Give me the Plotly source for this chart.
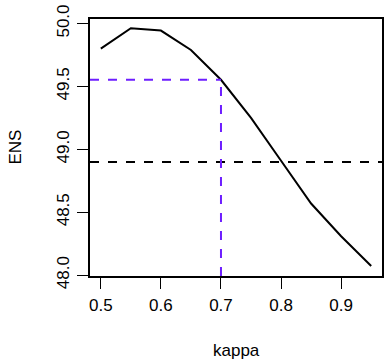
import plotly.graph_objects as go

kappa = [0.5, 0.55, 0.6, 0.65, 0.7, 0.75, 0.8, 0.85, 0.9, 0.95]
ens = [49.80, 49.963, 49.944, 49.79, 49.553, 49.25, 48.91, 48.57, 48.31, 48.073]
threshold = 48.9
kappa_sel = 0.7
ens_sel = 49.553
xtick_vals = [0.5, 0.6, 0.7, 0.8, 0.9]
xtick_text = ["0.5", "0.6", "0.7", "0.8", "0.9"]
ytick_vals = [48.0, 48.5, 49.0, 49.5, 50.0]
ytick_text = ["48.0", "48.5", "49.0", "49.5", "50.0"]

xr = [0.482, 0.968]
yr = [47.994, 50.036]

fig = go.Figure()
fig.add_trace(go.Scatter(x=kappa, y=ens, mode="lines",
                         line=dict(color="black", width=2), showlegend=False))
fig.add_trace(go.Scatter(x=[xr[0], xr[1]], y=[threshold, threshold], mode="lines",
                         line=dict(color="black", width=2, dash="9px,9px"), showlegend=False))
fig.add_trace(go.Scatter(x=[xr[0], kappa_sel], y=[ens_sel, ens_sel], mode="lines",
                         line=dict(color="#6E1EFF", width=2, dash="9px,9px"), showlegend=False))
fig.add_trace(go.Scatter(x=[kappa_sel, kappa_sel], y=[yr[0], ens_sel], mode="lines",
                         line=dict(color="#6E1EFF", width=2, dash="9px,9px"), showlegend=False))

font = dict(family="Liberation Sans, Arial, sans-serif", size=17, color="black")

fig.update_layout(
    width=384, height=359,
    margin=dict(l=90, r=0, t=19, b=83),
    paper_bgcolor="white", plot_bgcolor="white",
    font=font,
    xaxis=dict(range=xr, tickvals=xtick_vals, ticktext=xtick_text,
               showgrid=False, zeroline=False, showline=True, mirror=True,
               linecolor="black", linewidth=1.5, ticks="outside", ticklen=11,
               tickwidth=1, tickcolor="black", ticklabelstandoff=2),
    yaxis=dict(range=yr, tickvals=ytick_vals, ticktext=ytick_text, tickangle=-90,
               showgrid=False, zeroline=False, showline=True, mirror=True,
               linecolor="black", linewidth=1.5, ticks="outside", ticklen=11,
               tickwidth=1, tickcolor="black", ticklabelstandoff=1),
    annotations=[
        dict(text="kappa", xref="paper", yref="paper", x=0.5, y=0, xanchor="center",
             yanchor="middle", yshift=-74, showarrow=False, font=font),
        dict(text="ENS", xref="paper", yref="paper", x=0, y=0.5, xanchor="center",
             yanchor="middle", xshift=-75, textangle=-90, showarrow=False, font=font),
    ],
)

fig.write_html("out.html", config={"displayModeBar": False},
               post_script="document.body.style.margin='0';document.body.style.overflow='hidden';")
